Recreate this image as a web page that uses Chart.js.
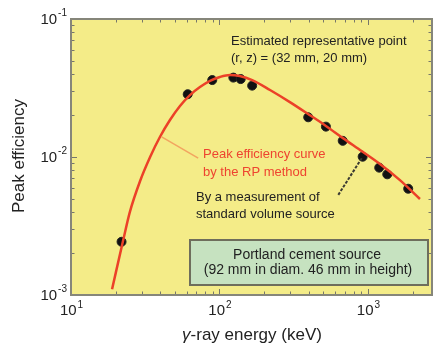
<!DOCTYPE html>
<html lang="en">
<head>
<meta charset="utf-8">
<title>Peak efficiency</title>
<script src="https://cdn.jsdelivr.net/npm/chart.js"></script>
<style>
  html, body { margin: 0; padding: 0; background: #fff; }
  #wrap { width: 440px; height: 344px; position: relative; }
</style>
</head>
<body>
<div id="wrap"><canvas id="myChart"></canvas></div>
<script>
  // curve computed by the RP method (keV, efficiency)
  const curveEnergy = [18.9, 22.4, 24.9, 29.2, 34.1, 39.7, 46.4, 54.2, 63.3, 73.9, 86.3, 100.7, 117.7, 137, 166, 219, 298, 395, 521, 679, 912, 1205, 1642, 2240];
  const curveEff = [0.0011, 0.00246, 0.00399, 0.0067, 0.0100, 0.01396, 0.01854, 0.02344, 0.0281, 0.0321, 0.0356, 0.0380, 0.0393, 0.0386, 0.0361, 0.0306, 0.0250, 0.0205, 0.0168, 0.0137, 0.0110, 0.0089, 0.0068, 0.00496];

  // measured points, standard volume source
  const pointEnergy = [21.9, 61.1, 89.4, 124, 139, 166, 396, 521, 676, 921, 1191, 1349, 1867];
  const pointEff = [0.00243, 0.0285, 0.0361, 0.0376, 0.0367, 0.0329, 0.0194, 0.0166, 0.0131, 0.01005, 0.00837, 0.00749, 0.00589];

  // leader lines for the two notes
  const curveLeaderE = [40.8, 71.9];
  const curveLeaderEff = [0.0140, 0.0098];
  const pointLeaderE = [908, 631];
  const pointLeaderEff = [0.0098, 0.00531];

  // axis ticks
  const xTickValues = [10, 100, 1000];
  const xTickExps = ['1', '2', '3'];
  const yTickValues = [0.001, 0.01, 0.1];
  const yTickExps = ['-3', '-2', '-1'];

  const xMin = 10, xMax = 2700, yMin = 0.001, yMax = 0.1;

  function toXY(xs, ys) {
    return xs.map((x, i) => ({ x: x, y: ys[i] }));
  }

  const FONT = '"Liberation Sans", Arial, sans-serif';

  const decor = {
    id: 'decor',
    beforeDatasetsDraw(chart) {
      const { ctx, chartArea: a } = chart;
      ctx.save();
      ctx.fillStyle = '#f4ec88';
      ctx.fillRect(a.left, a.top, a.right - a.left, a.bottom - a.top);
      ctx.restore();
    },
    afterDatasetsDraw(chart) {
      const { ctx, chartArea: a } = chart;
      const xs = chart.scales.x, ys = chart.scales.y;
      ctx.save();

      // minor and major ticks, inward on all four sides
      ctx.strokeStyle = '#77776a';
      ctx.lineWidth = 1;
      for (let d = 10; d <= 1000; d *= 10) {
        for (let m = 1; m <= 9; m++) {
          const v = d * m;
          if (v > xMax) continue;
          const px = Math.round(xs.getPixelForValue(v)) + 0.5;
          const len = m === 1 ? 6 : 3.5;
          ctx.beginPath();
          ctx.moveTo(px, a.bottom); ctx.lineTo(px, a.bottom - len);
          ctx.moveTo(px, a.top); ctx.lineTo(px, a.top + len);
          ctx.stroke();
        }
      }
      for (let d = 0.001; d < 0.11; d *= 10) {
        for (let m = 1; m <= 9; m++) {
          const v = d * m;
          if (v > yMax * 1.0001) continue;
          const py = Math.round(ys.getPixelForValue(v)) + 0.5;
          const len = m === 1 ? 6 : 3.5;
          ctx.beginPath();
          ctx.moveTo(a.left, py); ctx.lineTo(a.left + len, py);
          ctx.moveTo(a.right, py); ctx.lineTo(a.right - len, py);
          ctx.stroke();
        }
      }

      // frame
      ctx.strokeStyle = '#86867a';
      ctx.lineWidth = 2;
      ctx.strokeRect(a.left, a.top, a.right - a.left, a.bottom - a.top);

      // info box
      ctx.fillStyle = '#c6e2c0';
      ctx.fillRect(190, 240, 238, 45);
      ctx.strokeStyle = '#6e6e5c';
      ctx.lineWidth = 2;
      ctx.strokeRect(190, 240, 238, 45);

      ctx.fillStyle = '#222';
      ctx.textBaseline = 'middle';
      ctx.textAlign = 'center';
      ctx.font = '14px ' + FONT;
      ctx.fillText('Portland cement source', 307, 255);
      ctx.fillText('(92 mm in diam. 46 mm in height)', 308, 270);

      // notes
      ctx.textAlign = 'left';
      ctx.font = '13px ' + FONT;
      ctx.fillText('Estimated representative point', 231, 41);
      ctx.fillText('(r, z) = (32 mm, 20 mm)', 231, 58);
      ctx.fillText('By a measurement of', 196, 197);
      ctx.fillText('standard volume source', 196, 214);
      ctx.fillStyle = '#ee4430';
      ctx.fillText('Peak efficiency curve', 203, 154);
      ctx.fillText('by the RP method', 203, 172);

      // tick labels with superscripts
      ctx.fillStyle = '#222';
      xTickValues.forEach((v, i) => {
        const px = xs.getPixelForValue(v);
        ctx.font = '15px ' + FONT;
        const w1 = ctx.measureText('10').width;
        ctx.font = '10px ' + FONT;
        const w2 = ctx.measureText(xTickExps[i]).width;
        const x0 = px - (w1 + w2) / 2;
        ctx.textAlign = 'left';
        ctx.font = '15px ' + FONT;
        ctx.fillText('10', x0, a.bottom + 16);
        ctx.font = '10px ' + FONT;
        ctx.fillText(xTickExps[i], x0 + w1 + 1, a.bottom + 10);
      });
      yTickValues.forEach((v, i) => {
        const py = ys.getPixelForValue(v);
        ctx.font = '10px ' + FONT;
        const w2 = ctx.measureText(yTickExps[i]).width;
        const xr = 67;
        ctx.textAlign = 'left';
        ctx.fillText(yTickExps[i], xr - w2, py - 6);
        ctx.font = '15px ' + FONT;
        const w1 = ctx.measureText('10').width;
        ctx.fillText('10', xr - w2 - w1 - 1, py + 1);
      });

      // axis titles
      ctx.font = '17px ' + FONT;
      ctx.textAlign = 'center';
      ctx.save();
      ctx.translate(19, 156);
      ctx.rotate(-Math.PI / 2);
      ctx.fillText('Peak efficiency', 0, 0);
      ctx.restore();

      ctx.font = 'italic 17px ' + FONT;
      const g = 'γ';
      const gw = ctx.measureText(g).width;
      ctx.font = '17px ' + FONT;
      const rest = '-ray energy (keV)';
      const rw = ctx.measureText(rest).width;
      const sx = 252 - (gw + rw) / 2;
      ctx.textAlign = 'left';
      ctx.font = 'italic 17px ' + FONT;
      ctx.fillText(g, sx, 335);
      ctx.font = '17px ' + FONT;
      ctx.fillText(rest, sx + gw, 335);

      ctx.restore();
    }
  };

  new Chart(document.getElementById('myChart'), {
    type: 'scatter',
    data: {
      datasets: [
        {
          data: toXY(curveLeaderE, curveLeaderEff),
          showLine: true,
          borderColor: '#f2a560',
          borderWidth: 1.5,
          pointRadius: 0
        },
        {
          data: toXY(pointLeaderE, pointLeaderEff),
          showLine: true,
          borderColor: '#3a3a32',
          borderWidth: 2,
          borderDash: [3, 1.5],
          pointRadius: 0
        },
        {
          data: toXY(curveEnergy, curveEff),
          showLine: true,
          borderColor: '#ec4128',
          borderWidth: 2.5,
          cubicInterpolationMode: 'monotone',
          pointRadius: 0
        },
        {
          data: toXY(pointEnergy, pointEff),
          showLine: false,
          pointRadius: 4.5,
          pointBackgroundColor: '#111',
          pointBorderColor: '#222',
          pointBorderWidth: 1
        }
      ]
    },
    options: {
      responsive: true,
      maintainAspectRatio: false,
      animation: false,
      layout: { padding: { left: 71, top: 19, right: 8, bottom: 49 } },
      plugins: { legend: { display: false }, tooltip: { enabled: false } },
      scales: {
        x: { type: 'logarithmic', min: xMin, max: xMax, display: false },
        y: { type: 'logarithmic', min: yMin, max: yMax, display: false }
      }
    },
    plugins: [decor]
  });
</script>
</body>
</html>
